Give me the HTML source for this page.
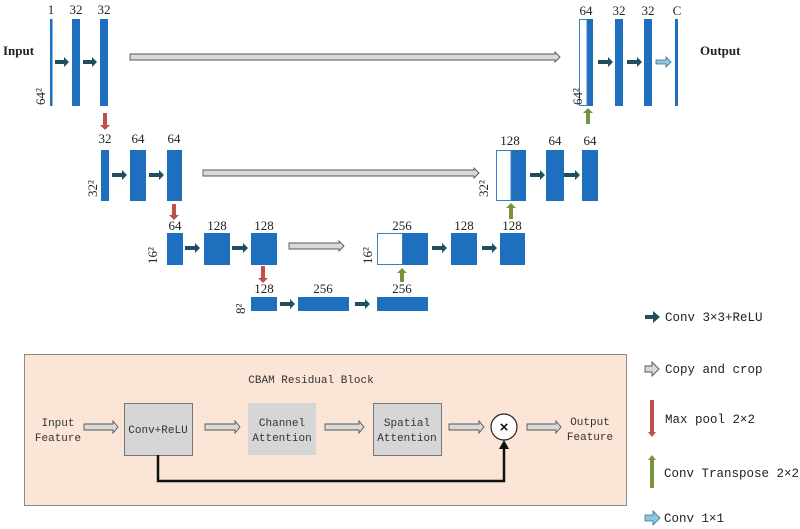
<!DOCTYPE html>
<html><head><meta charset="utf-8"><style>
html,body{margin:0;padding:0;background:#fff;}
svg{display:block;}
.n{font-family:"Liberation Serif",serif;font-size:13px;fill:#222;}
.m{font-family:"Liberation Mono",monospace;font-size:11px;fill:#333;}
.lg{font-family:"Liberation Mono",monospace;font-size:12.5px;fill:#222;}
</style></head><body>
<svg width="800" height="529" viewBox="0 0 800 529" xmlns="http://www.w3.org/2000/svg">
<g fill="#1f6fbf">
<!-- level1 -->
<rect x="50" y="19" width="2.5" height="87"/>
<rect x="72" y="19" width="8" height="87"/>
<rect x="100" y="19" width="8" height="87"/>
<!-- level2 -->
<rect x="101" y="150" width="8" height="51"/>
<rect x="130" y="150" width="16" height="51"/>
<rect x="167" y="150" width="15" height="51"/>
<!-- level3 -->
<rect x="167" y="233" width="16" height="32"/>
<rect x="204" y="233" width="26" height="32"/>
<rect x="251" y="233" width="26" height="32"/>
<!-- level4 -->
<rect x="251" y="297" width="26" height="14"/>
<rect x="298" y="297" width="51" height="14"/>
<rect x="377" y="297" width="51" height="14"/>
<!-- up3 -->
<rect x="402" y="233" width="26" height="32"/>
<rect x="451" y="233" width="26" height="32"/>
<rect x="500" y="233" width="25" height="32"/>
<!-- up2 -->
<rect x="511" y="150" width="15" height="51"/>
<rect x="546" y="150" width="18" height="51"/>
<rect x="582" y="150" width="16" height="51"/>
<!-- up1 -->
<rect x="587" y="19" width="6" height="87"/>
<rect x="615" y="19" width="8" height="87"/>
<rect x="644" y="19" width="8" height="87"/>
<rect x="675" y="19" width="3" height="87"/>
</g>
<g fill="#fff" stroke="#3a7fc0" stroke-width="1">
<rect x="377.5" y="233.5" width="25" height="31"/>
<rect x="496.5" y="150.5" width="14.5" height="50"/>
<rect x="579.5" y="19.5" width="7.5" height="86"/>
</g>
<!-- dark arrows -->
<g fill="#1f4e5f">
<path d="M55 60 H64 V57 L69 62 L64 67 V64 H55Z"/>
<path d="M83 60 H92 V57 L97 62 L92 67 V64 H83Z"/>
<path d="M112 173 H122 V170 L127 175 L122 180 V177 H112Z"/>
<path d="M149 173 H159 V170 L164 175 L159 180 V177 H149Z"/>
<path d="M185 246 H195 V243 L200 248 L195 253 V250 H185Z"/>
<path d="M232 246 H243 V243 L248 248 L243 253 V250 H232Z"/>
<path d="M280 302 H290 V299 L295 304 L290 309 V306 H280Z"/>
<path d="M355 302 H365 V299 L370 304 L365 309 V306 H355Z"/>
<path d="M432 246 H442 V243 L447 248 L442 253 V250 H432Z"/>
<path d="M482 246 H492 V243 L497 248 L492 253 V250 H482Z"/>
<path d="M530 173 H540 V170 L545 175 L540 180 V177 H530Z"/>
<path d="M564 173 H575 V170 L580 175 L575 180 V177 H564Z"/>
<path d="M598 60 H608 V57 L613 62 L608 67 V64 H598Z"/>
<path d="M627 60 H637 V57 L642 62 L637 67 V64 H627Z"/>
<path d="M645 315 H653 V311 L660 317 L653 323 V319 H645Z"/>
</g>
<path d="M656 60 H666 V57 L671 62 L666 67 V64 H656Z" fill="#8dc6e0" stroke="#3b6f88" stroke-width="0.8"/>
<path d="M645 515 H653 V511 L660 518 L653 525 V521 H645Z" fill="#8dc6e0" stroke="#3b6f88" stroke-width="0.8"/>
<!-- copy arrows -->
<g fill="#d9d9d9" stroke="#555" stroke-width="0.9">
<path d="M130 54 H555 V52 L560 57 L555 62 V60 H130Z"/>
<path d="M203 170 H474 V168 L479 173 L474 178 V176 H203Z"/>
<path d="M289 243 H339 V241 L344 246 L339 251 V249 H289Z"/>
<path d="M645 366 H652 V362 L659 369 L652 376 V372 H645Z"/>
</g>
<!-- red pools -->
<g fill="#c0504d">
<path d="M103 113 H107 V125 H110 L105 130 L100 125 H103Z"/>
<path d="M172 204 H176 V215 H179 L174 220 L169 215 H172Z"/>
<path d="M261 266 H265 V278 H268 L263 283 L258 278 H261Z"/>
<path d="M650 400 H654 V432 H656 L652 437 L648 432 H650Z"/>
</g>
<!-- green up -->
<g fill="#77933c">
<path d="M400 282 H404 V273 H407 L402 268 L397 273 H400Z"/>
<path d="M509 219 H513 V208 H516 L511 203 L506 208 H509Z"/>
<path d="M586 124 H590 V113 H593 L588 108 L583 113 H586Z"/>
<path d="M650 488 H654 V460 H656 L652 455 L648 460 H650Z"/>
</g>
<!-- labels -->
<g class="n" text-anchor="middle">
<text x="51" y="14">1</text><text x="76" y="14">32</text><text x="104" y="14">32</text>
<text x="105" y="143">32</text><text x="138" y="143">64</text><text x="174" y="143">64</text>
<text x="175" y="230">64</text><text x="217" y="230">128</text><text x="264" y="230">128</text>
<text x="264" y="293">128</text><text x="323" y="293">256</text><text x="402" y="293">256</text>
<text x="402" y="230">256</text><text x="464" y="230">128</text><text x="512" y="230">128</text>
<text x="510" y="145">128</text><text x="555" y="145">64</text><text x="590" y="145">64</text>
<text x="586" y="15">64</text><text x="619" y="15">32</text><text x="648" y="15">32</text><text x="677" y="15">C</text>
</g>
<g class="n" font-size="12">
<text transform="translate(45,105) rotate(-90)">64²</text>
<text transform="translate(97,197) rotate(-90)">32²</text>
<text transform="translate(157,264) rotate(-90)">16²</text>
<text transform="translate(245,314) rotate(-90)">8²</text>
<text transform="translate(372,264) rotate(-90)">16²</text>
<text transform="translate(488,197) rotate(-90)">32²</text>
<text transform="translate(582,105) rotate(-90)">64²</text>
</g>
<text x="3" y="55" class="n" font-weight="bold" font-size="12.5">Input</text>
<text x="700" y="55" class="n" font-weight="bold" font-size="12.5">Output</text>
<!-- legend -->
<text x="665" y="321" class="lg">Conv 3×3+ReLU</text>
<text x="665" y="373" class="lg">Copy and crop</text>
<text x="665" y="423" class="lg">Max pool 2×2</text>
<text x="664" y="477" class="lg">Conv Transpose 2×2</text>
<text x="664" y="522" class="lg">Conv 1×1</text>
<!-- CBAM -->
<rect x="24.5" y="354.5" width="602" height="151" fill="#fbe5d6" stroke="#8a8a8a" stroke-width="1"/>
<text x="311" y="383" class="m" text-anchor="middle">CBAM Residual Block</text>
<rect x="124.5" y="403.5" width="68" height="52" fill="#d6d6d6" stroke="#777"/>
<rect x="248" y="403" width="68" height="52" fill="#d6d6d6"/>
<rect x="373.5" y="403.5" width="68" height="52" fill="#d6d6d6" stroke="#777"/>
<g class="m" text-anchor="middle">
<text x="58" y="426">Input</text><text x="58" y="441">Feature</text>
<text x="158" y="433">Conv+ReLU</text>
<text x="282" y="426">Channel</text><text x="282" y="441">Attention</text>
<text x="407" y="426">Spatial</text><text x="407" y="441">Attention</text>
<text x="590" y="425">Output</text><text x="590" y="440">Feature</text>
</g>
<g fill="#d9d9d9" stroke="#555" stroke-width="0.9">
<path d="M84 424 H113 V421 L118 427 L113 433 V430 H84Z"/>
<path d="M205 424 H235 V421 L240 427 L235 433 V430 H205Z"/>
<path d="M325 424 H359 V421 L364 427 L359 433 V430 H325Z"/>
<path d="M449 424 H479 V421 L484 427 L479 433 V430 H449Z"/>
<path d="M527 424 H556 V421 L561 427 L556 433 V430 H527Z"/>
</g>
<circle cx="504" cy="427" r="13" fill="#fff" stroke="#222" stroke-width="1.2"/>
<text x="504" y="432" text-anchor="middle" font-family="Liberation Sans,sans-serif" font-weight="bold" font-size="15" fill="#111">×</text>
<path d="M158 455 V481 H504 V448" fill="none" stroke="#111" stroke-width="2.5"/>
<path d="M499 449 L504 440 L509 449Z" fill="#111"/>
</svg>
</body></html>
